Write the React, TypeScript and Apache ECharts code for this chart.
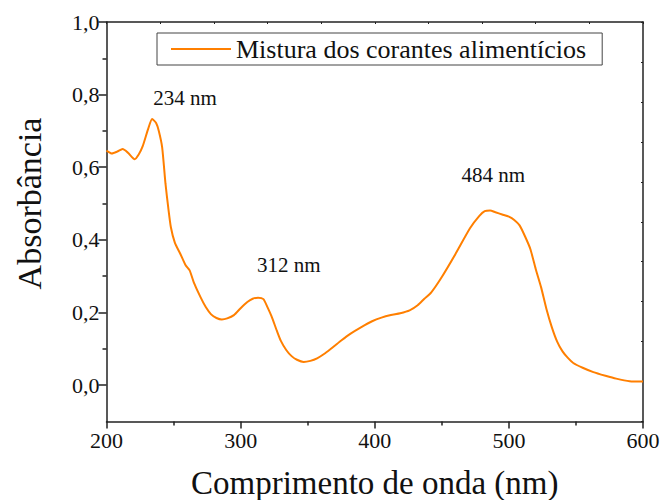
import React, { useEffect, useRef } from "react";
import * as echarts from "echarts";

const wavelengths = [
  200, 204, 208, 212, 216, 221, 224, 227, 231, 234, 237, 239, 241.5, 244, 246, 248, 251, 255, 259, 262,
  265, 270, 274, 278, 282, 286, 290, 295, 300, 305, 309, 313, 317, 320, 323, 327, 330, 334, 338, 342,
  347, 352, 357, 363, 369, 375, 382, 390, 398, 405, 412, 419, 426, 432, 437, 442, 450, 460, 471, 478,
  482, 486, 490, 495, 500, 504, 508, 512, 516, 520, 524, 528, 532, 536, 540, 544, 548, 555, 563, 572,
  580, 590, 600,
];
const absorbance = [
  0.646, 0.638, 0.643, 0.65, 0.64, 0.622, 0.635, 0.658, 0.705, 0.733, 0.722, 0.7, 0.655, 0.554, 0.49, 0.435, 0.392, 0.362, 0.33, 0.316,
  0.284, 0.243, 0.215, 0.195, 0.185, 0.181, 0.184, 0.193, 0.212, 0.229, 0.238, 0.241, 0.237, 0.215, 0.19, 0.15, 0.122, 0.097, 0.08, 0.07,
  0.064, 0.067, 0.074, 0.088, 0.105, 0.123, 0.142, 0.16, 0.176, 0.186, 0.193, 0.198, 0.206, 0.22, 0.238, 0.255, 0.298, 0.36, 0.432, 0.466,
  0.479, 0.481, 0.476, 0.47, 0.464, 0.455, 0.44, 0.41, 0.375, 0.32, 0.27, 0.21, 0.16, 0.12, 0.093, 0.075, 0.061, 0.048, 0.036, 0.026,
  0.018, 0.011, 0.01,
];
const peakWavelengths = [234, 312, 484];
const peakAbsorbances = [0.733, 0.241, 0.481];
const seriesName = "Mistura dos corantes alimentícios";
const xTitle = "Comprimento de onda (nm)";
const yTitle = "Absorbância";

const FONT = "'Liberation Serif', 'Times New Roman', serif";
const AXIS_COLOR = "#222";
const LINE_COLOR = "#FF7F00";

export default function App() {
  const ref = useRef<HTMLDivElement>(null);
  useEffect(() => {
    if (!ref.current) return;
    const chart = echarts.init(ref.current, null, { renderer: "svg" });
    const labelOffsets = [
      [33, -21],
      [32, -33],
      [6, -35],
    ];
    const option = {
      animation: false,
      backgroundColor: "#fff",
      textStyle: { fontFamily: FONT },
      grid: [
        { left: 106.5, right: 21, top: 22, bottom: 78.5, containLabel: false, outerBoundsMode: "none" },
        { left: 106.5, right: 21, top: 22, bottom: 115, containLabel: false, outerBoundsMode: "none" },
      ],
      legend: {
        left: 157,
        top: 33,
        padding: [2, 16, 2, 14],
        itemWidth: 60,
        itemHeight: 2,
        icon: "rect",
        borderColor: "#444",
        borderWidth: 1,
        textStyle: { fontFamily: FONT, fontSize: 26, color: "#111", lineHeight: 28 },
        data: [seriesName],
      },
      xAxis: [
        {
          type: "value", gridIndex: 0, min: 200, max: 600, interval: 100, position: "bottom",
          axisLine: { show: true, onZero: false, lineStyle: { color: AXIS_COLOR, width: 1.5 } },
          axisTick: { show: true, length: 7, lineStyle: { color: AXIS_COLOR, width: 1.5 } },
          minorTick: { show: true, splitNumber: 2, length: 4, lineStyle: { color: AXIS_COLOR, width: 1.5 } },
          splitLine: { show: false },
          axisLabel: { fontFamily: FONT, fontSize: 22, color: "#111", margin: 8 },
          name: xTitle, nameLocation: "middle", nameGap: 47,
          nameTextStyle: { fontFamily: FONT, fontSize: 33, color: "#111", lineHeight: 28 },
        },
        {
          type: "value", gridIndex: 0, min: 200, max: 600, interval: 40, position: "top",
          axisLine: { show: true, onZero: false, lineStyle: { color: AXIS_COLOR, width: 1.5 } },
          axisTick: { show: true, inside: true, length: 2, lineStyle: { color: AXIS_COLOR, width: 1 } },
          splitLine: { show: false }, axisLabel: { show: false },
        },
        { type: "value", gridIndex: 1, min: 200, max: 600, show: false },
      ],
      yAxis: [
        {
          type: "value", gridIndex: 0, min: -0.1, max: 1.0, position: "left",
          axisLine: { show: true, onZero: false, lineStyle: { color: AXIS_COLOR, width: 1.5 } },
          axisTick: { show: false }, splitLine: { show: false }, axisLabel: { show: false },
        },
        {
          type: "value", gridIndex: 0, min: 0, max: 10, interval: 1, position: "right",
          axisLine: { show: true, onZero: false, lineStyle: { color: AXIS_COLOR, width: 1.5 } },
          axisTick: { show: true, inside: true, length: 2, lineStyle: { color: AXIS_COLOR, width: 1 } },
          splitLine: { show: false }, axisLabel: { show: false },
        },
        {
          type: "value", gridIndex: 1, min: 0, max: 1.0, interval: 0.2, position: "left",
          axisLine: { show: false },
          axisTick: { show: true, length: 8, lineStyle: { color: AXIS_COLOR, width: 1.5 } },
          minorTick: { show: true, splitNumber: 2, length: 4, lineStyle: { color: AXIS_COLOR, width: 1.5 } },
          splitLine: { show: false },
          axisLabel: { fontFamily: FONT, fontSize: 22, color: "#111", margin: 7, formatter: (v: number) => v.toFixed(1).replace(".", ",") },
          name: yTitle, nameLocation: "middle", nameGap: 60,
          nameTextStyle: { fontFamily: FONT, fontSize: 34, color: "#111" },
        },
      ],
      series: [
        {
          name: seriesName, type: "line", xAxisIndex: 0, yAxisIndex: 0,
          data: wavelengths.map((w, i) => [w, absorbance[i]]),
          smooth: 0.2, symbol: "none",
          lineStyle: { color: LINE_COLOR, width: 2 }, itemStyle: { color: LINE_COLOR },
          markPoint: {
            symbol: "circle", symbolSize: 0, silent: true,
            data: peakWavelengths.map((w, i) => ({
              coord: [w, peakAbsorbances[i]],
              label: { show: true, position: "inside", offset: labelOffsets[i], formatter: `${w} nm`, fontFamily: FONT, fontSize: 21, color: "#111" },
            })),
          },
        },
      ],
    };
    chart.setOption(option as any);
    return () => chart.dispose();
  }, []);
  return (
    <div
      ref={ref}
      style={{ position: "absolute", left: 0, top: 0, width: 664, height: 500, background: "#fff" }}
    />
  );
}
